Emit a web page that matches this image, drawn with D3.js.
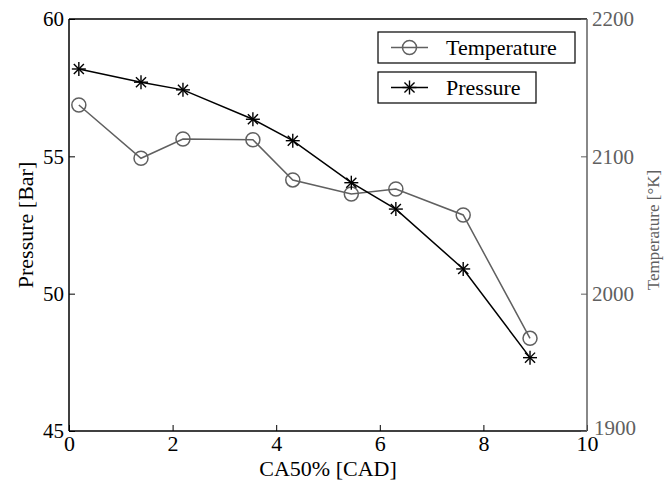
<!DOCTYPE html>
<html><head><meta charset="utf-8">
<script src="https://cdn.jsdelivr.net/npm/d3@7"></script>
<style>body{margin:0;background:#fff}svg{display:block}svg text{font-family:"Liberation Serif","Times New Roman",serif !important}</style>
</head><body><svg id="c" width="665" height="483" font-family="Liberation Serif"></svg>
<script>
const ca50 = [0.19, 1.39, 2.20, 3.55, 4.32, 5.45, 6.31, 7.61, 8.90];
const pressure = [58.18, 57.70, 57.42, 56.35, 55.57, 54.04, 53.08, 50.90, 47.67];
const temperature = [2137.4, 2098.6, 2112.6, 2112.1, 2082.8, 2072.6, 2076.2, 2057.3, 1967.5];
const xTicks = [0, 2, 4, 6, 8, 10];
const pTicks = [45, 50, 55, 60];
const tTicks = [1900, 2000, 2100, 2200];
const seriesNames = ["Temperature", "Pressure"];

const FONT = "Liberation Serif";
const gray = "#606060";
const svg = d3.select("#c");
const L = 69, R = 587, T = 19, B = 431;
const x = d3.scaleLinear().domain([0, 10]).range([L, R]);
const yP = d3.scaleLinear().domain([45, 60]).range([B, T]);
const yT = d3.scaleLinear().domain([1900, 2200]).range([B, T]);

// frame top
svg.append("line").attr("x1", L).attr("x2", R).attr("y1", T).attr("y2", T).attr("stroke", "#000").attr("stroke-width", 1.5);

// bottom axis
const gx = svg.append("g").attr("transform", `translate(0,${B})`)
  .call(d3.axisBottom(x).tickValues(xTicks).tickSize(-6).tickPadding(4).tickFormat(d3.format("d")));
gx.attr("font-family", FONT);
gx.select(".domain").attr("stroke-width", 1.5).attr("d", `M${L},0H${R}`);
gx.selectAll("text").attr("font-size", 22).attr("font-family", FONT).attr("fill", "#000").attr("dy", "0.71em");

// left axis
const gl = svg.append("g").attr("transform", `translate(${L},0)`)
  .call(d3.axisLeft(yP).tickValues(pTicks).tickSize(-6).tickPadding(5).tickFormat(d3.format("d")));
gl.attr("font-family", FONT);
gl.select(".domain").attr("stroke-width", 1.5).attr("d", `M0,${T}V${B}`);
gl.selectAll("text").attr("font-size", 21).attr("font-family", FONT).attr("fill", "#000");

// right axis
const gr = svg.append("g").attr("transform", `translate(${R},0)`)
  .call(d3.axisRight(yT).tickValues(tTicks).tickSize(-6).tickPadding(5).tickFormat(d3.format("d")));
gr.attr("font-family", FONT);
gr.select(".domain").attr("stroke", gray).attr("stroke-width", 1.5).attr("d", `M0,${T}V${B}`);
gr.selectAll("line").attr("stroke", gray);
gr.selectAll("text").attr("font-size", 21).attr("font-family", FONT).attr("fill", gray);
gr.selectAll(".tick").filter(d => d === 1900).select("text").attr("dy", "0.18em").attr("x", 7);

// axis labels
svg.append("text").attr("transform", `translate(33,${(T + B) / 2}) rotate(-90)`)
  .attr("text-anchor", "middle").attr("font-size", 22).attr("font-family", FONT).text("Pressure [Bar]");
svg.append("text").attr("transform", `translate(659,${(T + B) / 2 + 5}) rotate(-90)`)
  .attr("text-anchor", "middle").attr("font-size", 17).attr("font-family", FONT).attr("fill", gray).text("Temperature [°K]");
svg.append("text").attr("x", (L + R) / 2).attr("y", 476)
  .attr("text-anchor", "middle").attr("font-size", 22).attr("font-family", FONT).text("CA50% [CAD]");

// data
const tempData = ca50.map((v, i) => [v, temperature[i]]);
const presData = ca50.map((v, i) => [v, pressure[i]]);

svg.append("path").datum(tempData).attr("fill", "none").attr("stroke", gray).attr("stroke-width", 1.5)
  .attr("d", d3.line().x(d => x(d[0])).y(d => yT(d[1])));
svg.append("path").datum(presData).attr("fill", "none").attr("stroke", "#000").attr("stroke-width", 1.5)
  .attr("d", d3.line().x(d => x(d[0])).y(d => yP(d[1])));

function star(g, cx, cy, r) {
  const s = g.append("g").attr("transform", `translate(${cx},${cy})`).attr("stroke", "#000").attr("stroke-width", 1.4);
  s.append("line").attr("x1", 0).attr("x2", 0).attr("y1", -r).attr("y2", r);
  s.append("line").attr("x1", -r).attr("x2", r).attr("y1", 0).attr("y2", 0);
  const k = r * 0.72;
  s.append("line").attr("x1", -k).attr("x2", k).attr("y1", -k).attr("y2", k);
  s.append("line").attr("x1", -k).attr("x2", k).attr("y1", k).attr("y2", -k);
}

svg.append("g").selectAll("circle").data(tempData).join("circle")
  .attr("cx", d => x(d[0])).attr("cy", d => yT(d[1])).attr("r", 7)
  .attr("fill", "none").attr("stroke", gray).attr("stroke-width", 1.5);
const sg = svg.append("g");
presData.forEach(d => star(sg, x(d[0]), yP(d[1]), 7));

// legend
const lg = svg.append("g");
const boxes = [{ y: 32, w: 197 }, { y: 72, w: 158 }];
seriesNames.forEach((name, i) => {
  const b = boxes[i];
  lg.append("rect").attr("x", 378).attr("y", b.y).attr("width", b.w).attr("height", 31)
    .attr("fill", "#fff").attr("stroke", "#000").attr("stroke-width", 1.2);
  const cy = b.y + 15.5;
  const col = i === 0 ? gray : "#000";
  lg.append("line").attr("x1", 391).attr("x2", 428).attr("y1", cy).attr("y2", cy).attr("stroke", col).attr("stroke-width", 1.5);
  if (i === 0) lg.append("circle").attr("cx", 409.5).attr("cy", cy).attr("r", 7).attr("fill", "none").attr("stroke", gray).attr("stroke-width", 1.5);
  else star(lg, 409.5, cy, 7);
  lg.append("text").attr("x", 446).attr("y", cy).attr("dy", "0.35em").attr("font-size", 22).attr("font-family", FONT).text(name);
});
</script></body></html>
